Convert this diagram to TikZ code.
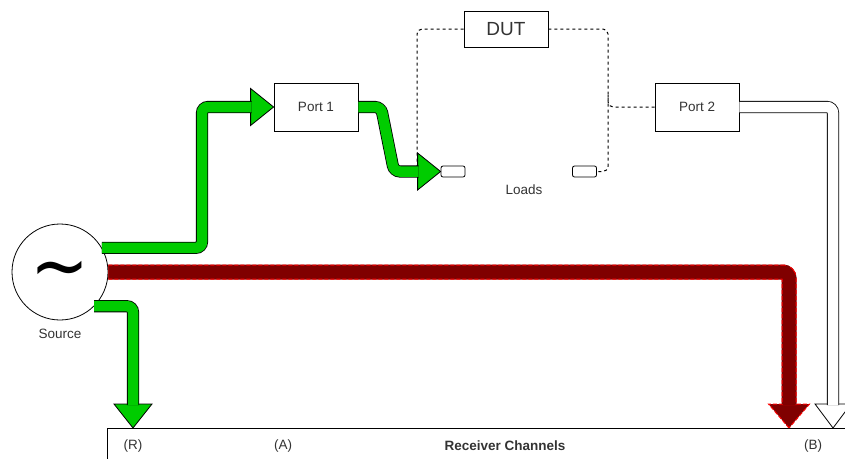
\documentclass[tikz,border=0pt]{standalone}
\usepackage{fontspec}
\setmainfont{Liberation Sans}
\newfontfamily\wavefont{DejaVu Sans}
\usetikzlibrary{positioning}
\definecolor{srcgreen}{RGB}{0,204,0}
\definecolor{measred}{RGB}{128,0,0}
\definecolor{txtgray}{RGB}{51,51,51}
\tikzset{
txt/.style={font=\fontsize{13.5}{16}\selectfont, text=txtgray, inner sep=0pt},
portbox/.style={draw, line width=0.8pt, minimum width=84pt, minimum height=48pt, txt},
loadbox/.style={draw, line width=0.8pt, rounded corners=2pt, minimum width=24pt, minimum height=11pt, inner sep=0pt},
wire/.style={draw=black, line width=1pt, dash pattern=on 3pt off 3pt, rounded corners=5pt},
greenflow/.style={draw=black, line width=0.8pt, double=srcgreen, double distance=10.5pt, rounded corners=6pt},
greenhead/.style={fill=srcgreen, draw=black, line width=0.8pt},
whiteflow/.style={draw=black, line width=0.8pt, double=white, double distance=10.5pt, rounded corners=6pt},
whitehead/.style={fill=white, draw=black, line width=0.8pt},
redbase/.style={draw=measred, line width=15pt, rounded corners=6pt},
rededge/.style={draw=red, line width=15pt, dash pattern=on 4pt off 2pt, rounded corners=6pt},
redfill/.style={draw=measred, line width=13pt, rounded corners=6pt},
redhead/.style={fill=measred, draw=red, line width=1pt, dash pattern=on 4pt off 2pt},
}
% arrow heads: tip, style (, half width)
\newcommand{\headright}[2]{\draw[#2] (#1) -- ++(-23,-18.5) -- ++(0,37) -- cycle;}
\newcommand{\headdown}[3]{\draw[#2] (#1) -- ++(-#3,-24) -- ++(2*#3,0) -- cycle;}

\begin{document}
\begin{tikzpicture}[x=1pt,y=-1pt]
\useasboundingbox (0,0) rectangle (845,458);
\clip (0,0) rectangle (845,458);
% the blocks
\node[draw, circle, line width=0.8pt, minimum size=96pt, inner sep=0pt] (src) at (60,272) {};
\node[inner sep=0pt, font=\wavefont\fontsize{54}{54}\selectfont] (wave) at (60,277) {\scalebox{1.3}[1.45]{\char"007E}};
\node[txt, below=8pt of src] (srclab) {Source};
\node[portbox] (port1) at (316,107) {Port 1};
\node[portbox] (port2) at (697,107) {Port 2};
\node[portbox, minimum height=36pt, font=\fontsize{19}{22}\selectfont] (dut) at (506,29) {DUT};
\node[loadbox] (load1) at (453,171.5) {};
\node[loadbox] (load2) at (584.5,171.5) {};
\node[txt] (loads) at (524,190) {Loads};
\node[draw, line width=0.8pt, minimum width=760pt, minimum height=60pt, anchor=north west] (rx) at (107,428) {};
\node[txt] (chR) at (133,446) {(R)};
\node[txt] (chA) at (283,446) {(A)};
\node[txt, font=\fontsize{13.5}{16}\selectfont\bfseries] (rxlab) at (505,446) {Receiver Channels};
\node[txt] (chB) at (813,446) {(B)};
\coordinate (tipB) at (789,428);
\coordinate (tipP2) at (833,428);
% the DUT wiring
\draw[wire] (dut.west) -| (417,171.5) -- (load1.west);
\draw[wire] (dut.east) -| (608,171.5) -- (load2.east);
\draw[wire] (port2.west) -| (608,95);
% the signal flow
\headright{port1.west}{greenhead}
\draw[greenflow] (src.30) -| (202,107) -- ([xshift=-22pt]port1.west);
\headright{load1.west}{greenhead}
\draw[greenflow] (port1.east) -- (381,107) -- (394,171.5) -- ([xshift=-22pt]load1.west);
\headdown{chR |- rx.north}{greenhead}{19}
\draw[greenflow] (src.-45) -| ([yshift=23pt]chR |- rx.north);
\headdown{tipB}{redhead}{20.5}
\draw[redbase] (src.east) -| ([yshift=23pt]tipB);
\draw[rededge] (src.east) -| ([yshift=23pt]tipB);
\draw[redfill] (src.east) -| ([yshift=23pt]tipB);
\headdown{tipP2}{whitehead}{18}
\draw[whiteflow] (port2.east) -| ([yshift=23pt]tipP2);
\end{tikzpicture}
\end{document}
